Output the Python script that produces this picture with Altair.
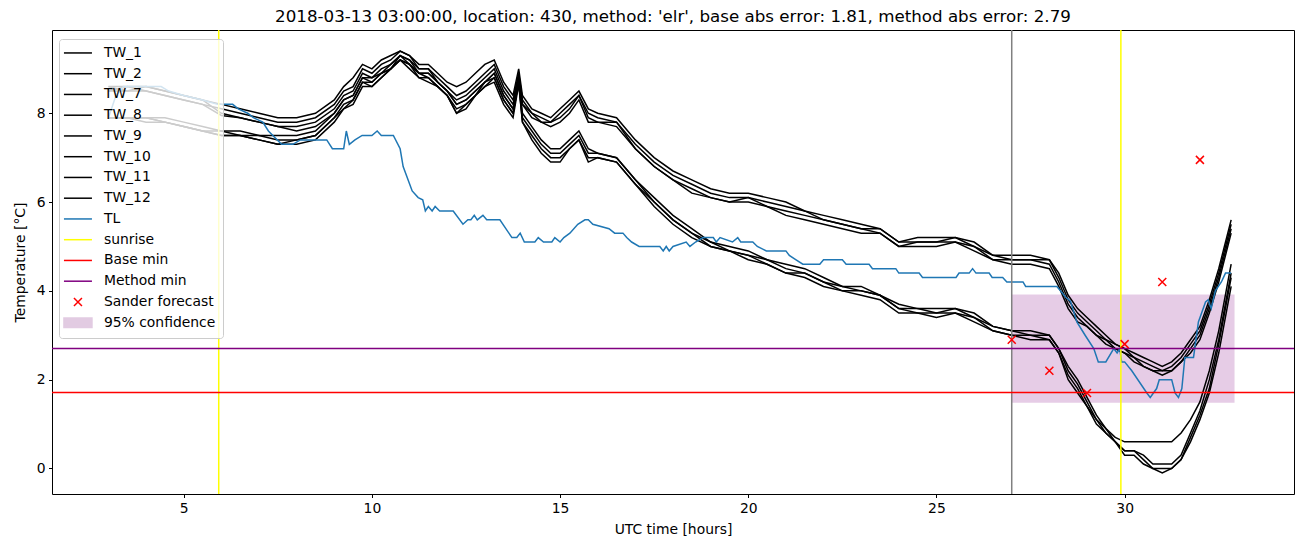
import altair as alt
import pandas as pd

# ---------------- data ----------------
T_GRID = [3.0, 3.5, 4.0, 4.5, 5.0, 5.5, 6.0, 6.5, 7.0, 7.5, 8.0, 8.5, 9.0, 9.25, 9.5, 9.75,
          10.0, 10.25, 10.5, 10.75, 11.0, 11.25, 11.5, 11.75, 12.0, 12.25, 12.5, 12.75,
          13.0, 13.25, 13.5, 13.75, 13.9, 14.0, 14.25, 14.5, 14.75, 15.0, 15.25, 15.5,
          15.75, 16.0, 16.5, 17.0, 17.5, 18.0, 18.5, 19.0, 19.5, 20.0, 20.5, 21.0, 21.5,
          22.0, 22.5, 23.0, 23.5, 24.0, 24.5, 25.0, 25.5, 26.0, 26.5, 27.0, 27.5, 28.0,
          28.25, 28.5, 28.75, 29.0, 29.25, 29.5, 29.75, 30.0, 30.25, 30.5, 30.75, 31.0,
          31.25, 31.5, 31.75, 32.0, 32.25, 32.5, 32.83]

TW_1 = [8.5, 8.5, 8.6, 8.5, 8.4, 8.3, 8.2, 8.1, 8.0, 7.9, 7.9, 8.0, 8.3, 8.6, 8.8, 9.1,
        9.0, 9.2, 9.3, 9.4, 9.3, 9.1, 9.1, 8.9, 8.7, 8.6, 8.7, 8.9, 9.1, 9.2, 8.7, 8.4,
        9.0, 8.4, 8.1, 8.0, 7.9, 8.1, 8.3, 8.5, 8.1, 8.0, 7.9, 7.4, 7.0, 6.7, 6.5, 6.3,
        6.2, 6.2, 6.1, 6.0, 5.8, 5.7, 5.6, 5.5, 5.4, 5.1, 5.2, 5.2, 5.2, 5.1, 4.8, 4.8,
        4.8, 4.7, 4.4, 3.9, 3.6, 3.4, 3.2, 3.0, 2.8, 2.7, 2.6, 2.5, 2.4, 2.3, 2.4, 2.6,
        2.9, 3.2, 3.8, 4.5, 5.6]
TW_2 = [8.5, 8.6, 8.5, 8.4, 8.3, 8.2, 8.1, 8.0, 7.9, 7.8, 7.8, 7.9, 8.2, 8.5, 8.6, 9.0,
        8.9, 9.1, 9.2, 9.4, 9.3, 9.0, 9.0, 8.8, 8.6, 8.4, 8.5, 8.7, 8.9, 9.1, 8.6, 8.3,
        8.9, 8.3, 8.0, 7.9, 7.8, 8.0, 8.2, 8.4, 8.0, 7.9, 7.8, 7.3, 6.9, 6.6, 6.4, 6.2,
        6.1, 6.1, 6.0, 5.9, 5.8, 5.6, 5.5, 5.4, 5.4, 5.1, 5.1, 5.1, 5.2, 5.0, 4.8, 4.7,
        4.7, 4.7, 4.3, 3.8, 3.5, 3.3, 3.1, 2.9, 2.8, 2.7, 2.5, 2.4, 2.3, 2.2, 2.3, 2.5,
        2.8, 3.1, 3.7, 4.4, 5.5]
TW_7 = [8.6, 8.6, 8.6, 8.5, 8.4, 8.3, 8.0, 7.9, 7.8, 7.7, 7.7, 7.8, 8.1, 8.4, 8.5, 8.9,
        8.8, 9.0, 9.1, 9.3, 9.2, 9.0, 9.0, 8.7, 8.5, 8.3, 8.4, 8.6, 8.8, 9.0, 8.5, 8.2,
        8.85, 8.2, 8.0, 7.8, 7.8, 7.9, 8.1, 8.4, 7.9, 7.8, 7.8, 7.2, 6.8, 6.5, 6.3, 6.1,
        6.0, 6.1, 5.9, 5.8, 5.7, 5.6, 5.5, 5.4, 5.3, 5.0, 5.1, 5.1, 5.1, 5.0, 4.7, 4.7,
        4.7, 4.6, 4.2, 3.7, 3.4, 3.2, 3.0, 2.9, 2.7, 2.6, 2.5, 2.3, 2.2, 2.2, 2.2, 2.4,
        2.7, 3.0, 3.6, 4.3, 5.4]
TW_8 = [8.6, 8.5, 8.5, 8.4, 8.3, 8.2, 7.95, 7.9, 7.8, 7.7, 7.6, 7.7, 8.0, 8.3, 8.4, 8.8,
        8.8, 8.9, 9.1, 9.3, 9.2, 8.9, 8.9, 8.7, 8.5, 8.2, 8.3, 8.5, 8.7, 8.9, 8.4, 8.1,
        8.8, 8.2, 7.9, 7.8, 7.7, 7.8, 8.0, 8.3, 7.8, 7.8, 7.7, 7.2, 6.8, 6.5, 6.2, 6.1,
        6.0, 6.0, 5.9, 5.7, 5.6, 5.5, 5.4, 5.3, 5.3, 5.0, 5.0, 5.0, 5.1, 4.9, 4.7, 4.6,
        4.6, 4.5, 4.1, 3.6, 3.3, 3.2, 3.0, 2.8, 2.7, 2.6, 2.4, 2.3, 2.2, 2.1, 2.2, 2.4,
        2.6, 2.9, 3.5, 4.2, 5.3]
TW_9 = [7.9, 7.9, 7.9, 7.8, 7.7, 7.6, 7.6, 7.6, 7.5, 7.5, 7.5, 7.6, 8.0, 8.3, 8.4, 8.8,
        8.7, 8.9, 9.0, 9.3, 9.1, 8.9, 8.9, 8.7, 8.5, 8.2, 8.3, 8.5, 8.7, 8.9, 8.4, 8.1,
        8.75, 8.0, 7.7, 7.4, 7.2, 7.2, 7.4, 7.6, 7.2, 7.1, 7.0, 6.5, 6.1, 5.7, 5.4, 5.1,
        5.0, 4.9, 4.7, 4.6, 4.5, 4.3, 4.1, 4.1, 3.9, 3.7, 3.6, 3.6, 3.6, 3.5, 3.2, 3.1,
        3.1, 3.0, 2.7, 2.3, 2.0, 1.6, 1.2, 0.9, 0.7, 0.6, 0.6, 0.6, 0.6, 0.6, 0.6, 0.8,
        1.1, 1.5, 2.2, 3.1, 4.6]
TW_10 = [7.9, 7.9, 7.9, 7.9, 7.8, 7.7, 7.6, 7.5, 7.5, 7.4, 7.4, 7.5, 7.9, 8.2, 8.3, 8.7,
         8.7, 8.9, 9.0, 9.2, 9.1, 8.9, 8.8, 8.6, 8.4, 8.1, 8.2, 8.4, 8.7, 8.8, 8.3, 8.0,
         8.7, 7.9, 7.6, 7.3, 7.1, 7.1, 7.3, 7.5, 7.1, 7.1, 7.0, 6.5, 6.0, 5.6, 5.3, 5.1,
         4.9, 4.8, 4.7, 4.5, 4.4, 4.2, 4.1, 4.0, 3.9, 3.6, 3.6, 3.5, 3.6, 3.4, 3.2, 3.1,
         3.0, 3.0, 2.7, 2.2, 1.9, 1.5, 1.1, 0.9, 0.6, 0.4, 0.4, 0.3, 0.1, 0.1, 0.1, 0.3,
         0.8, 1.3, 2.0, 2.9, 4.4]
TW_11 = [7.9, 7.9, 7.8, 7.8, 7.7, 7.6, 7.5, 7.5, 7.4, 7.3, 7.4, 7.5, 7.9, 8.1, 8.3, 8.7,
         8.6, 8.8, 9.0, 9.2, 9.1, 8.8, 8.8, 8.6, 8.4, 8.0, 8.2, 8.4, 8.6, 8.8, 8.3, 8.0,
         8.7, 7.8, 7.5, 7.2, 7.0, 7.0, 7.2, 7.4, 7.0, 7.0, 6.9, 6.4, 6.0, 5.6, 5.3, 5.0,
         4.9, 4.8, 4.6, 4.4, 4.4, 4.2, 4.0, 4.0, 3.9, 3.6, 3.5, 3.5, 3.5, 3.4, 3.1, 3.0,
         3.0, 2.9, 2.6, 2.1, 1.8, 1.4, 1.1, 0.8, 0.6, 0.4, 0.4, 0.2, 0.0, 0.0, 0.0, 0.2,
         0.7, 1.2, 1.8, 2.8, 4.3]
TW_12 = [7.9, 7.9, 7.9, 7.8, 7.7, 7.6, 7.5, 7.5, 7.4, 7.3, 7.3, 7.4, 7.8, 8.1, 8.2, 8.6,
         8.6, 8.8, 9.0, 9.2, 9.0, 8.8, 8.7, 8.6, 8.4, 8.0, 8.1, 8.4, 8.6, 8.7, 8.2, 7.9,
         8.65, 7.8, 7.4, 7.1, 6.9, 6.9, 7.2, 7.4, 6.9, 7.0, 6.9, 6.4, 5.9, 5.5, 5.2, 5.0,
         4.9, 4.7, 4.6, 4.4, 4.3, 4.1, 4.0, 3.9, 3.8, 3.5, 3.5, 3.4, 3.5, 3.3, 3.1, 3.0,
         2.9, 2.9, 2.6, 2.0, 1.7, 1.4, 1.0, 0.8, 0.6, 0.3, 0.3, 0.1, 0.0, -0.1, 0.0, 0.2,
         0.6, 1.1, 1.7, 2.6, 4.1]
TW_NAMES = ["TW_1", "TW_2", "TW_7", "TW_8", "TW_9", "TW_10", "TW_11", "TW_12"]
TW_SERIES = [TW_1, TW_2, TW_7, TW_8, TW_9, TW_10, TW_11, TW_12]

TL_T = [3.0, 3.2, 3.4, 4.4, 4.6, 5.0, 5.5, 5.9, 6.3, 6.45, 6.7, 6.85, 7.1, 7.25, 7.6, 7.9,
        8.1, 8.8, 8.95, 9.25, 9.32, 9.4, 9.55, 9.74, 10.0, 10.14, 10.25, 10.57, 10.75,
        10.83, 11.07, 11.23, 11.35, 11.42, 11.5, 11.6, 11.68, 11.8, 12.16, 12.42, 12.55,
        12.63, 12.72, 12.8, 12.95, 13.05, 13.4, 13.72, 13.85, 13.94, 14.05, 14.33, 14.42,
        14.56, 14.78, 14.86, 15.0, 15.1, 15.26, 15.47, 15.66, 15.75, 15.87, 16.3, 16.45,
        16.67, 16.77, 16.9, 17.1, 17.65, 17.74, 17.82, 17.9, 18.0, 18.35, 18.45, 18.6,
        18.8, 19.07, 19.15, 19.25, 19.58, 19.72, 19.8, 20.12, 20.24, 20.48, 21.0, 21.09,
        21.27, 21.45, 21.9, 22.0, 22.5, 22.6, 23.21, 23.3, 23.92, 24.0, 24.54, 24.63,
        25.52, 25.6, 25.87, 25.96, 26.05, 26.4, 26.48, 26.76, 26.87, 27.3, 27.37, 28.2,
        28.43, 28.56, 28.73, 28.95, 29.18, 29.3, 29.5, 29.71, 29.8, 29.87, 29.92, 30.0,
        30.19, 30.59, 30.68, 30.85, 30.92, 31.25, 31.34, 31.43, 31.52, 31.6, 31.83,
        31.96, 32.15, 32.22, 32.3, 32.41, 32.57, 32.68, 32.83]
TL_V = [7.9, 8.4, 8.6, 8.6, 8.5, 8.4, 8.3, 8.2, 8.2, 8.1, 8.0, 7.9, 7.8, 7.6, 7.3, 7.3,
        7.4, 7.4, 7.2, 7.2, 7.6, 7.3, 7.4, 7.5, 7.5, 7.6, 7.5, 7.5, 7.2,
        6.8, 6.25, 6.1, 6.05, 5.8, 5.9, 5.8, 5.9, 5.8, 5.8, 5.5, 5.6,
        5.6, 5.7, 5.6, 5.7, 5.6, 5.6, 5.2, 5.2, 5.3, 5.1, 5.1, 5.2,
        5.1, 5.1, 5.2, 5.1, 5.2, 5.3, 5.5, 5.6, 5.6, 5.5, 5.4, 5.3,
        5.3, 5.2, 5.1, 5.0, 5.0, 4.9, 5.0, 4.9, 5.0, 5.1, 5.0, 5.1,
        5.2, 5.2, 5.1, 5.2, 5.1, 5.2, 5.1, 5.1, 5.0, 4.9, 4.9, 4.8,
        4.7, 4.6, 4.6, 4.7, 4.7, 4.6, 4.6, 4.5, 4.5, 4.4, 4.4, 4.3,
        4.3, 4.4, 4.4, 4.5, 4.4, 4.4, 4.3, 4.3, 4.2, 4.2, 4.1, 4.1,
        3.86, 3.77, 3.3, 3.0, 2.7, 2.4, 2.4, 2.7, 2.6, 2.7, 2.4, 2.4,
        2.2, 1.7, 1.6, 1.8, 2.0, 2.0, 1.7, 1.6, 1.8, 2.5, 2.5,
        3.3, 3.75, 3.8, 3.6, 4.0, 4.2, 4.4, 4.4]

SUNRISE_T = [5.93, 29.9]
NOW_T = [27.0]
BASE_MIN = [1.71]
METHOD_MIN = [2.7]
SANDER_T = [27, 28, 29, 30, 31, 32]
SANDER_V = [2.9, 2.2, 1.7, 2.8, 4.2, 6.95]
CONF_T = [27.0]
CONF_T2 = [32.92]
CONF_LO = [1.48]
CONF_HI = [3.92]

TITLE = ("2018-03-13 03:00:00, location: 430, method: 'elr', "
         "base abs error: 1.81, method abs error: 2.79")

LEGEND_NAMES = TW_NAMES + ["TL", "sunrise", "Base min", "Method min",
                           "Sander forecast", "95% confidence"]
LEGEND_COLORS = ["black"] * 8 + ["#1f77b4", "yellow", "red", "purple",
                                 "red", "#e2cbe2"]
LINE_PATH = "M-1.8,0H3.8"
X_LEG_PATH = "M0.2,-0.8L1.8,0.8M0.2,0.8L1.8,-0.8"
RECT_PATH = "M-1.8,-0.95H3.8V0.95H-1.8Z"
LEGEND_SHAPES = [LINE_PATH] * 12 + [X_LEG_PATH, RECT_PATH]
X_MARK = "M-1,-1L1,1M-1,1L1,-1"

FONT = "DejaVu Sans"

# ---------------- tables built from the arrays ----------------
tw_rows = []
for name, vals in zip(TW_NAMES, TW_SERIES):
    for t, v in zip(T_GRID, vals):
        tw_rows.append({"name": name, "t": t, "v": v})
tw_df = pd.DataFrame(tw_rows)
tl_df = pd.DataFrame({"t": TL_T, "v": TL_V})
sun_df = pd.DataFrame({"t": SUNRISE_T})
now_df = pd.DataFrame({"t": NOW_T})
base_df = pd.DataFrame({"v": BASE_MIN})
meth_df = pd.DataFrame({"v": METHOD_MIN})
sander_df = pd.DataFrame({"t": SANDER_T, "v": SANDER_V})
conf_df = pd.DataFrame({"t": CONF_T, "t2": CONF_T2, "v": CONF_LO, "v2": CONF_HI})
leg_df = pd.DataFrame({"name": LEGEND_NAMES})

xscale = alt.Scale(domain=[1.5, 34.5], nice=False, zero=False)
yscale = alt.Scale(domain=[-0.575, 9.875], nice=False, zero=False)
xaxis = alt.Axis(values=[5, 10, 15, 20, 25, 30], title="UTC time [hours]")
yaxis = alt.Axis(values=[0, 2, 4, 6, 8], title="Temperature [°C]")


def X(field="t"):
    return alt.X(f"{field}:Q", scale=xscale, axis=xaxis)


def Y(field="v"):
    return alt.Y(f"{field}:Q", scale=yscale, axis=yaxis)


band = alt.Chart(conf_df).mark_rect(color="purple", opacity=0.2).encode(
    x=X(), x2="t2:Q", y=Y(), y2="v2:Q")

tw = alt.Chart(tw_df).mark_line(color="black", strokeWidth=1.5).encode(
    x=X(), y=Y(), detail="name:N", order="t:Q")

tl = alt.Chart(tl_df).mark_line(color="#1f77b4", strokeWidth=1.5).encode(
    x=X(), y=Y(), order="t:Q")

sun = alt.Chart(sun_df).mark_rule(color="yellow", strokeWidth=1.5).encode(x=X())
now = alt.Chart(now_df).mark_rule(color="grey", strokeWidth=1.5).encode(x=X())
base = alt.Chart(base_df).mark_rule(color="red", strokeWidth=1.5).encode(y=Y())
meth = alt.Chart(meth_df).mark_rule(color="purple", strokeWidth=1.5).encode(y=Y())

sander = alt.Chart(sander_df).mark_point(
    shape=X_MARK, color="red", filled=False, size=64, strokeWidth=1.5, opacity=1
).encode(x=X(), y=Y())

leg_scale = alt.Scale(domain=LEGEND_NAMES, range=LEGEND_COLORS)
shape_scale = alt.Scale(domain=LEGEND_NAMES, range=LEGEND_SHAPES)
legend = alt.Legend(
    title=None, orient="none", legendX=7, legendY=9,
    fillColor="rgba(255,255,255,0.8)", strokeColor="#cccccc", cornerRadius=3,
    padding=7, labelFont=FONT, labelFontSize=13.9, labelColor="black",
    symbolSize=100, symbolStrokeWidth=1.5, symbolOpacity=1, rowPadding=5.75,
    labelOffset=24, labelLimit=400,
)
legend_layer = alt.Chart(leg_df).mark_point(
    filled=True, opacity=1, strokeWidth=1.5, size=100
).encode(
    x=alt.X("missing_t:Q", scale=xscale, axis=xaxis),
    y=alt.Y("missing_v:Q", scale=yscale, axis=yaxis),
    fill=alt.Fill("name:N", scale=leg_scale, legend=legend, sort=LEGEND_NAMES),
    stroke=alt.Stroke("name:N", scale=leg_scale, legend=legend, sort=LEGEND_NAMES),
    shape=alt.Shape("name:N", scale=shape_scale, legend=legend, sort=LEGEND_NAMES),
)

chart = alt.layer(band, tw, tl, sun, now, base, meth, sander, legend_layer).properties(
    width=1242, height=464,
    padding={"left": 52, "top": 30, "right": 8, "bottom": 53},
    autosize=alt.AutoSizeParams(type="none"),
    title=alt.TitleParams(text=TITLE, font=FONT, fontSize=16.7, fontWeight="normal",
                          color="black", anchor="middle", offset=4),
    background="white",
).configure_view(
    stroke="black", strokeWidth=1
).configure_axis(
    domain=False, grid=False, ticks=True, tickColor="black", tickSize=3.5,
    tickWidth=1, labelColor="black", labelFont=FONT, labelFontSize=13.9,
    labelPadding=3.5, titleFont=FONT, titleFontSize=13.9,
    titleFontWeight="normal", titleColor="black",
).configure_axisX(titlePadding=8).configure_axisY(titlePadding=9)

chart.save("out.html", embed_options={"renderer": "svg", "actions": False})
